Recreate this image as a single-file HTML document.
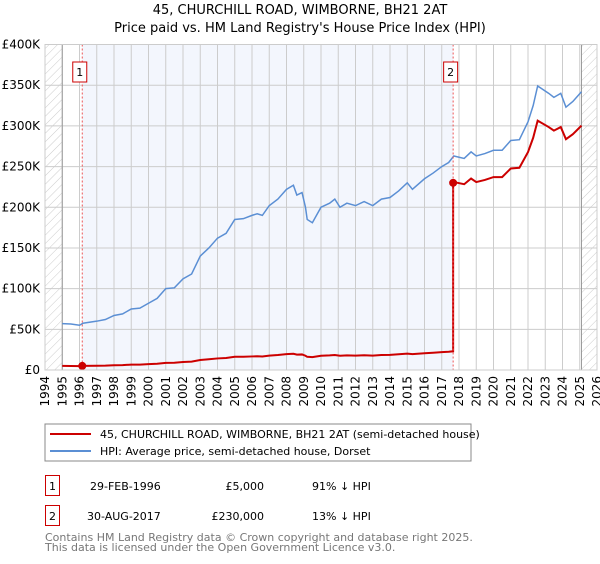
<!DOCTYPE html>
<html><head><meta charset="utf-8"><style>
body{margin:0;background:#fff;font-family:"DejaVu Sans","Liberation Sans",sans-serif;}
svg text{font-family:"DejaVu Sans","Liberation Sans",sans-serif;}
</style></head><body>
<svg id="c" width="600" height="560" xmlns="http://www.w3.org/2000/svg">
<defs><pattern id="hatch" width="6" height="6" patternUnits="userSpaceOnUse" patternTransform="rotate(45)"><line x1="0" y1="0" x2="0" y2="6" stroke="#ccc" stroke-width="1"/></pattern></defs>
<text x="300" y="14" text-anchor="middle" font-size="13">45, CHURCHILL ROAD, WIMBORNE, BH21 2AT</text>
<text x="300" y="32" text-anchor="middle" font-size="13">Price paid vs. HM Land Registry's House Price Index (HPI)</text>
<g id="plot"></g>
<rect x="45" y="424" width="426" height="37" fill="#fff" stroke="#888"/>
<line x1="50" y1="434" x2="91" y2="434" stroke="#cc0000" stroke-width="2"/>
<text x="100" y="438" font-size="11">45, CHURCHILL ROAD, WIMBORNE, BH21 2AT (semi-detached house)</text>
<line x1="50" y1="451" x2="91" y2="451" stroke="#5b8fd4" stroke-width="2"/>
<text x="100" y="455" font-size="11">HPI: Average price, semi-detached house, Dorset</text>
<rect x="45.5" y="475.5" width="14" height="20" fill="#fff" stroke="#cc0000"/>
<text x="52.5" y="490" font-size="11" text-anchor="middle">1</text>
<text x="90" y="490" font-size="11">29-FEB-1996</text>
<text x="264" y="490" font-size="11" text-anchor="end">£5,000</text>
<text x="312" y="490" font-size="11">91% ↓ HPI</text>
<rect x="45.5" y="505.5" width="14" height="20" fill="#fff" stroke="#cc0000"/>
<text x="52.5" y="520" font-size="11" text-anchor="middle">2</text>
<text x="87" y="520" font-size="11">30-AUG-2017</text>
<text x="264" y="520" font-size="11" text-anchor="end">£230,000</text>
<text x="312" y="520" font-size="11">13% ↓ HPI</text>
<text x="45" y="541" font-size="11" fill="#777">Contains HM Land Registry data © Crown copyright and database right 2025.</text>
<text x="45" y="551" font-size="11" fill="#777">This data is licensed under the Open Government Licence v3.0.</text>
</svg>
<script>
const hpiYears=[1995,1995.5,1996,1996.2,1997,1997.5,1998,1998.5,1999,1999.5,2000,2000.5,2001,2001.5,2002,2002.5,2003,2003.5,2004,2004.5,2005,2005.5,2006,2006.3,2006.6,2007,2007.5,2008,2008.4,2008.6,2008.9,2009.1,2009.2,2009.5,2010,2010.5,2010.8,2011.1,2011.5,2012,2012.5,2013,2013.5,2014,2014.5,2015,2015.3,2016,2016.5,2017,2017.4,2017.7,2018.3,2018.7,2019,2019.5,2020,2020.5,2021,2021.5,2022,2022.3,2022.56,2023.2,2023.5,2023.9,2024.2,2024.6,2025.1];
const hpiValues=[57000,56500,55000,57500,60000,62000,67000,69000,75000,76000,82000,88000,100000,101000,112000,118000,140000,150000,162000,168000,185000,186000,190000,192000,190000,202000,210000,222000,227000,215000,218000,200000,185000,181000,200000,205000,210000,200000,205000,202000,207000,202000,210000,212000,220000,230000,222000,235000,242000,250000,255000,263000,260000,268000,263000,266000,270000,270000,282000,283000,305000,325000,349000,340000,335000,340000,323000,330000,342000];
const saleYears=[1996.16,2017.66];
const salePrices=[5000,230000];
const yTicks=[0,50000,100000,150000,200000,250000,300000,350000,400000];
const yTickLabels=["£0","£50K","£100K","£150K","£200K","£250K","£300K","£350K","£400K"];
const xTicks=[1994,1995,1996,1997,1998,1999,2000,2001,2002,2003,2004,2005,2006,2007,2008,2009,2010,2011,2012,2013,2014,2015,2016,2017,2018,2019,2020,2021,2022,2023,2024,2025,2026];

const X=y=>45+(y-1994)*17.25;
const Y=v=>370-v/400000*325.5;
const NS="http://www.w3.org/2000/svg";
const g=document.getElementById('plot');
function mk(t,a){const e=document.createElementNS(NS,t);for(const k in a)e.setAttribute(k,a[k]);g.appendChild(e);return e;}
function hpiAt(t){for(let i=0;i<hpiYears.length-1;i++){if(t<=hpiYears[i+1]){const f=(t-hpiYears[i])/(hpiYears[i+1]-hpiYears[i]);return hpiValues[i]+f*(hpiValues[i+1]-hpiValues[i]);}}return hpiValues[hpiValues.length-1];}
const x0=X(1994),x1=X(2026),ptop=Y(400000),bot=Y(0);
let e=mk('rect',{x:x0,y:ptop,width:x1-x0,height:bot-ptop,fill:'#fff'});

e=mk('rect',{x:X(saleYears[0]),y:ptop,width:X(saleYears[1])-X(saleYears[0]),height:bot-ptop,fill:'#f3f6fd'});

e=mk('rect',{x:x0,y:ptop,width:X(hpiYears[0])-x0,height:bot-ptop,fill:'url(#hatch)'});

e=mk('rect',{x:X(hpiYears[hpiYears.length-1]),y:ptop,width:x1-X(hpiYears[hpiYears.length-1]),height:bot-ptop,fill:'url(#hatch)'});

xTicks.forEach(t=>{const l=mk('line',{x1:X(t),x2:X(t),y1:ptop,y2:bot,stroke:'#ccc','stroke-width':1});

const tx=mk('text',{x:0,y:0,'font-size':12,'text-anchor':'end',transform:`translate(${X(t)+4},${bot+6}) rotate(-90)`});tx.textContent=t;
});
yTicks.forEach((v,i)=>{const l=mk('line',{x1:x0,x2:x1,y1:Y(v),y2:Y(v),stroke:'#ccc','stroke-width':1});

const tx=mk('text',{x:40,y:Y(v)+4,'font-size':12,'text-anchor':'end'});tx.textContent=yTickLabels[i];
});
[hpiYears[0],hpiYears[hpiYears.length-1]].forEach(t=>{const l=mk('line',{x1:X(t),x2:X(t),y1:ptop,y2:bot,stroke:'#999','stroke-width':1});
});
e=mk('polyline',{points:hpiYears.map((t,i)=>X(t)+','+Y(hpiValues[i])).join(' '),fill:'none',stroke:'#5b8fd4','stroke-width':1.5});

const pts=[];
const r0=salePrices[0]/hpiAt(saleYears[0]),r1=salePrices[1]/hpiAt(saleYears[1]);
hpiYears.forEach((t,i)=>{if(t<saleYears[1])pts.push([t,hpiValues[i]*r0]);});
pts.push([saleYears[1],hpiAt(saleYears[1])*r0]);
pts.push([saleYears[1],salePrices[1]]);
hpiYears.forEach((t,i)=>{if(t>saleYears[1])pts.push([t,hpiValues[i]*r1]);});
e=mk('polyline',{points:pts.map(p=>X(p[0])+','+Y(p[1])).join(' '),fill:'none',stroke:'#cc0000','stroke-width':2});

saleYears.forEach((t,i)=>{
const l=mk('line',{x1:X(t),x2:X(t),y1:ptop,y2:bot,stroke:'#ee5555','stroke-width':1,'stroke-dasharray':'2,2'});

const c=mk('circle',{cx:X(t),cy:Y(salePrices[i]),r:4,fill:'#cc0000'});

const b=mk('rect',{x:X(t)-9.5,y:62,width:14,height:20,fill:'#fff',stroke:'#cc0000'});

const tx=mk('text',{x:X(t)-2.5,y:76,'font-size':11,'text-anchor':'middle'});tx.textContent=i+1;

});
e=mk('rect',{x:x0,y:ptop,width:x1-x0,height:bot-ptop,fill:'none',stroke:'#ccc'});

</script>
</body></html>
